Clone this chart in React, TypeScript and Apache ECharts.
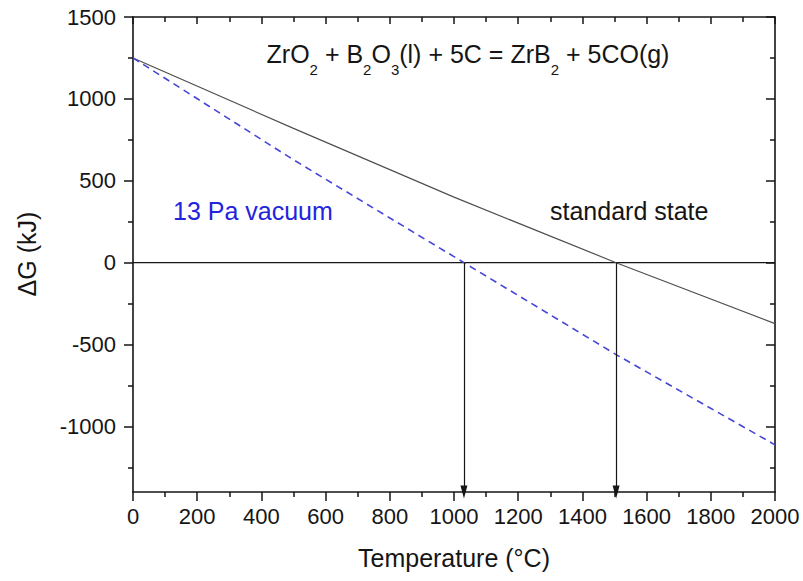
import React, { useEffect, useRef } from 'react';
import * as echarts from 'echarts';

// ---- data ----
const standardT = [0, 500, 1000, 1505, 2000];
const standardG = [1250, 820, 400, 0, -372];
const vacuumT = [0, 500, 1031, 1505, 2000];
const vacuumG = [1250, 628, 0, -561, -1112];
const zeroCrossT = [1031, 1505];
const xMin = 0;
const xMax = 2000;
const xInterval = 200;
const yMin = -1400;
const yMax = 1500;
const yTickValues = [-1000, -500, 0, 500, 1000, 1500];

const FONT = 'Liberation Sans, Arial, Helvetica, sans-serif';
const INK = '#151515';

export default function App() {
  const ref = useRef<HTMLDivElement>(null);
  useEffect(() => {
    if (!ref.current) return;
    const chart = echarts.init(ref.current, undefined, { renderer: 'svg' });
    const axisLine = { show: true, onZero: false, lineStyle: { color: INK, width: 1.6 } };
    const tickStyle = { color: INK, width: 1.5 };
    const plain = (v: number) => String(v);
    const option: any = {
      animation: false,
      backgroundColor: '#ffffff',
      textStyle: { fontFamily: FONT },
      grid: { left: 133, right: 28, top: 17, bottom: 89, containLabel: false },
      xAxis: [
        {
          type: 'value', position: 'bottom', min: xMin, max: xMax, interval: xInterval,
          axisLine,
          axisTick: { show: true, length: 9, lineStyle: tickStyle },
          minorTick: { show: true, splitNumber: 2, length: 5, lineStyle: tickStyle },
          splitLine: { show: false },
          axisLabel: { fontSize: 22, color: INK, margin: 13, fontFamily: FONT, formatter: plain },
        },
        {
          type: 'value', position: 'top', min: xMin, max: xMax, interval: xInterval,
          axisLine,
          axisTick: { show: true, inside: true, length: 7, lineStyle: tickStyle },
          minorTick: { show: true, splitNumber: 2, length: 5, lineStyle: tickStyle },
          splitLine: { show: false },
          axisLabel: { show: false },
        },
      ],
      yAxis: [
        {
          type: 'value', position: 'left', min: yMin, max: yMax, splitNumber: 6,
          axisLine,
          axisTick: { show: true, length: 9, lineStyle: tickStyle, customValues: yTickValues },
          minorTick: { show: true, splitNumber: 2, length: 5, lineStyle: tickStyle },
          splitLine: { show: false },
          axisLabel: { fontSize: 22, color: INK, margin: 17, fontFamily: FONT, customValues: yTickValues, formatter: plain },
        },
        {
          type: 'value', position: 'right', min: yMin, max: yMax, splitNumber: 6,
          axisLine,
          axisTick: { show: true, inside: true, length: 9, lineStyle: tickStyle, customValues: yTickValues },
          minorTick: { show: true, splitNumber: 2, length: 5, lineStyle: tickStyle },
          splitLine: { show: false },
          axisLabel: { show: false },
        },
      ],
      series: [
        {
          name: 'standard state', type: 'line', xAxisIndex: 0, yAxisIndex: 0,
          data: standardT.map((t, i) => [t, standardG[i]]),
          showSymbol: false, symbol: 'none',
          lineStyle: { color: '#505050', width: 1.2 },
          z: 3,
        },
        {
          name: '13 Pa vacuum', type: 'line', xAxisIndex: 0, yAxisIndex: 0,
          data: vacuumT.map((t, i) => [t, vacuumG[i]]),
          showSymbol: false, symbol: 'none',
          lineStyle: { color: '#4646d6', width: 1.6, type: [7, 5] },
          z: 3,
        },
        {
          name: 'zero', type: 'line', xAxisIndex: 0, yAxisIndex: 0,
          data: [[xMin, 0], [xMax, 0]],
          showSymbol: false, symbol: 'none',
          lineStyle: { color: INK, width: 1.2 },
          z: 2,
          markLine: {
            silent: true,
            symbol: ['none', 'triangle'],
            symbolSize: [7, 13],
            symbolOffset: [-6, 0],
            label: { show: false },
            lineStyle: { color: INK, width: 1.2, type: 'solid' },
            data: zeroCrossT.map((t) => [{ coord: [t, 0] }, { coord: [t, yMin] }]),
          },
        },
      ],
      graphic: [
        {
          type: 'text', x: 468, y: 41,
          style: {
            text: '{n|ZrO}{s|2}{n| + B}{s|2}{n|O}{s|3}{n|(l) + 5C = ZrB}{s|2}{n| + 5CO(g)}',
            align: 'center', verticalAlign: 'top',
            rich: {
              n: { fontSize: 25, fontFamily: FONT, fill: INK, lineHeight: 30, verticalAlign: 'top' },
              s: { fontSize: 15, fontFamily: FONT, fill: INK, lineHeight: 18, verticalAlign: 'top', padding: [21, 0, 0, 0] },
            },
          },
        },
        {
          type: 'text', x: 550, y: 211,
          style: { text: 'standard state', fontSize: 25, fontFamily: FONT, fill: INK, align: 'left', verticalAlign: 'middle' },
        },
        {
          type: 'text', x: 173, y: 211,
          style: { text: '13 Pa vacuum', fontSize: 25, fontFamily: FONT, fill: '#2424dc', align: 'left', verticalAlign: 'middle' },
        },
        {
          type: 'text', x: 454, y: 558,
          style: { text: 'Temperature (°C)', fontSize: 25, fontFamily: FONT, fill: INK, align: 'center', verticalAlign: 'middle' },
        },
        {
          type: 'text', x: 27, y: 254, rotation: Math.PI / 2,
          style: { text: 'ΔG (kJ)', fontSize: 25, fontFamily: FONT, fill: INK, align: 'center', verticalAlign: 'middle' },
        },
      ],
    };
    chart.setOption(option);
    return () => chart.dispose();
  }, []);
  return <div ref={ref} style={{ position: 'absolute', left: 0, top: 0, width: 803, height: 581 }} />;
}
